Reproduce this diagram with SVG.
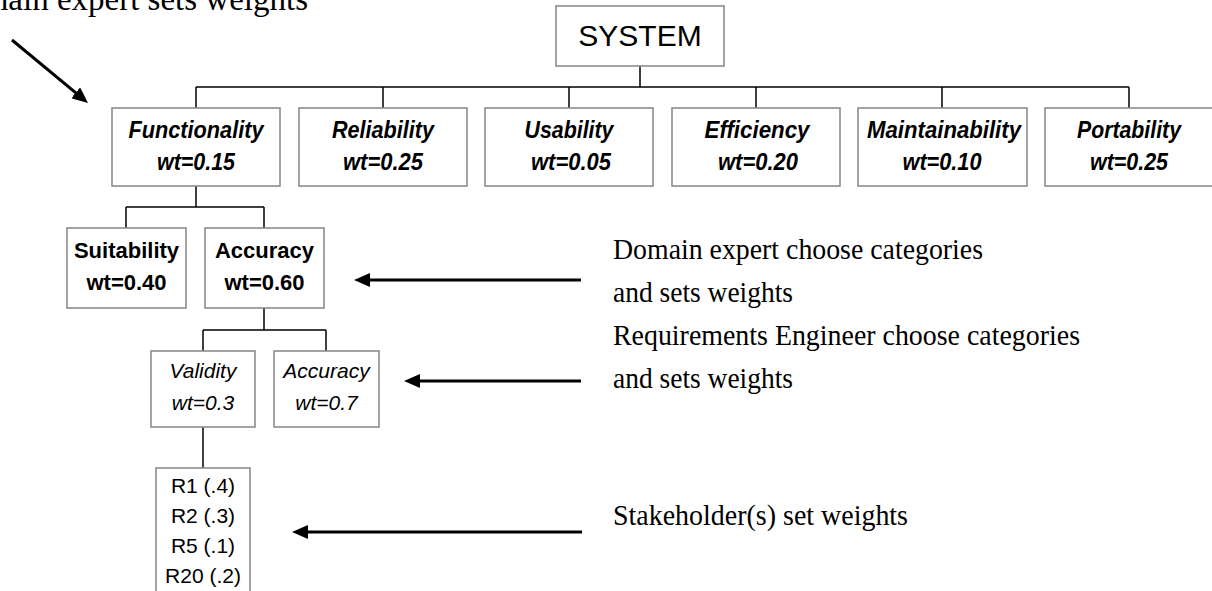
<svg xmlns="http://www.w3.org/2000/svg" width="1212" height="591" viewBox="0 0 1212 591">
<style>
.box{fill:#fff;stroke:#8c8c8c;stroke-width:1.6}
.conn{fill:none;stroke:#000;stroke-width:1.5}
.arr{fill:none;stroke:#000;stroke-width:3}
.ann{font-family:"Liberation Serif","Times New Roman",serif;font-size:29px;fill:#000}
.l1{font-family:"Liberation Sans",Arial,sans-serif;font-size:24px;font-weight:bold;font-style:italic;text-anchor:middle;fill:#000}
.l2{font-family:"Liberation Sans",Arial,sans-serif;font-size:22px;font-weight:bold;text-anchor:middle;fill:#000}
.l3{font-family:"Liberation Sans",Arial,sans-serif;font-size:21px;font-style:italic;text-anchor:middle;fill:#000}
.l4{font-family:"Liberation Sans",Arial,sans-serif;font-size:21px;text-anchor:middle;fill:#000}
.sys{font-family:"Liberation Sans",Arial,sans-serif;font-size:30px;text-anchor:middle;fill:#000}
</style>
<defs>
<marker id="ah" markerUnits="userSpaceOnUse" markerWidth="16" markerHeight="14" refX="10" refY="7" orient="auto">
<path d="M0,0 L16,7 L0,14 z" fill="#000"/>
</marker>
</defs>

<g id="connectors">
<path class="conn" d="M640,66 V87 M196,87 H1129 M196,87 V108 M383,87 V108 M569,87 V108 M756,87 V108 M942,87 V108 M1129,87 V108"/>
<path class="conn" d="M196,186 V207 M126,207 H264 M126,207 V228 M264,207 V228"/>
<path class="conn" d="M264,308 V330 M203,330 H326 M203,330 V351 M326,330 V351"/>
<path class="conn" d="M203,427 V468"/>
</g>

<g id="annotations">
<text class="ann" x="308" y="10" text-anchor="end" style="font-size:33px">Domain expert sets weights</text>
<line class="arr" x1="12" y1="40" x2="83.4" y2="99.2" marker-end="url(#ah)"/>
<line class="arr" x1="581" y1="280" x2="360" y2="280" marker-end="url(#ah)"/>
<text class="ann" x="613" y="259" textLength="370" lengthAdjust="spacingAndGlyphs">Domain expert choose categories</text>
<text class="ann" x="613" y="302" textLength="180" lengthAdjust="spacingAndGlyphs">and sets weights</text>
<line class="arr" x1="581" y1="381" x2="410" y2="381" marker-end="url(#ah)"/>
<text class="ann" x="613" y="345" textLength="467" lengthAdjust="spacingAndGlyphs">Requirements Engineer choose categories</text>
<text class="ann" x="613" y="388" textLength="180" lengthAdjust="spacingAndGlyphs">and sets weights</text>
<line class="arr" x1="582" y1="532" x2="298" y2="532" marker-end="url(#ah)"/>
<text class="ann" x="613" y="525" textLength="295" lengthAdjust="spacingAndGlyphs">Stakeholder(s) set weights</text>
</g>

<g id="system">
<rect class="box" x="556" y="6" width="168" height="60"/>
<text class="sys" x="640" y="46">SYSTEM</text>
</g>

<g id="functionality">
<rect class="box" x="112" y="108" width="168" height="78"/>
<text class="l1" x="196" y="138" textLength="135" lengthAdjust="spacingAndGlyphs">Functionality</text>
<text class="l1" x="196" y="170" textLength="78" lengthAdjust="spacingAndGlyphs">wt=0.15</text>
</g>
<g id="reliability">
<rect class="box" x="299" y="108" width="168" height="78"/>
<text class="l1" x="383" y="138" textLength="102" lengthAdjust="spacingAndGlyphs">Reliability</text>
<text class="l1" x="383" y="170" textLength="80" lengthAdjust="spacingAndGlyphs">wt=0.25</text>
</g>
<g id="usability">
<rect class="box" x="485" y="108" width="168" height="78"/>
<text class="l1" x="569" y="138" textLength="89" lengthAdjust="spacingAndGlyphs">Usability</text>
<text class="l1" x="571" y="170" textLength="80" lengthAdjust="spacingAndGlyphs">wt=0.05</text>
</g>
<g id="efficiency">
<rect class="box" x="672" y="108" width="168" height="78"/>
<text class="l1" x="757" y="138" textLength="105" lengthAdjust="spacingAndGlyphs">Efficiency</text>
<text class="l1" x="758" y="170" textLength="80" lengthAdjust="spacingAndGlyphs">wt=0.20</text>
</g>
<g id="maintainability">
<rect class="box" x="858" y="108" width="169" height="78"/>
<text class="l1" x="944" y="138" textLength="154" lengthAdjust="spacingAndGlyphs">Maintainability</text>
<text class="l1" x="942" y="170" textLength="79" lengthAdjust="spacingAndGlyphs">wt=0.10</text>
</g>
<g id="portability">
<rect class="box" x="1045" y="108" width="168" height="78"/>
<text class="l1" x="1129" y="138" textLength="104" lengthAdjust="spacingAndGlyphs">Portability</text>
<text class="l1" x="1129" y="170" textLength="78" lengthAdjust="spacingAndGlyphs">wt=0.25</text>
</g>

<g id="suitability">
<rect class="box" x="67" y="228" width="119" height="80"/>
<text class="l2" x="126.5" y="258">Suitability</text>
<text class="l2" x="126.5" y="290">wt=0.40</text>
</g>
<g id="accuracy1">
<rect class="box" x="205" y="228" width="119" height="80"/>
<text class="l2" x="264.5" y="258">Accuracy</text>
<text class="l2" x="264.5" y="290">wt=0.60</text>
</g>

<g id="validity">
<rect class="box" x="151" y="351" width="104" height="76"/>
<text class="l3" x="203" y="378">Validity</text>
<text class="l3" x="203" y="410">wt=0.3</text>
</g>
<g id="accuracy2">
<rect class="box" x="274" y="351" width="105" height="76"/>
<text class="l3" x="326.5" y="378">Accuracy</text>
<text class="l3" x="326.5" y="410">wt=0.7</text>
</g>

<g id="requirements">
<rect class="box" x="156" y="468" width="94" height="140"/>
<text class="l4" x="203" y="493">R1 (.4)</text>
<text class="l4" x="203" y="523">R2 (.3)</text>
<text class="l4" x="203" y="553">R5 (.1)</text>
<text class="l4" x="203" y="583">R20 (.2)</text>
</g>
</svg>
